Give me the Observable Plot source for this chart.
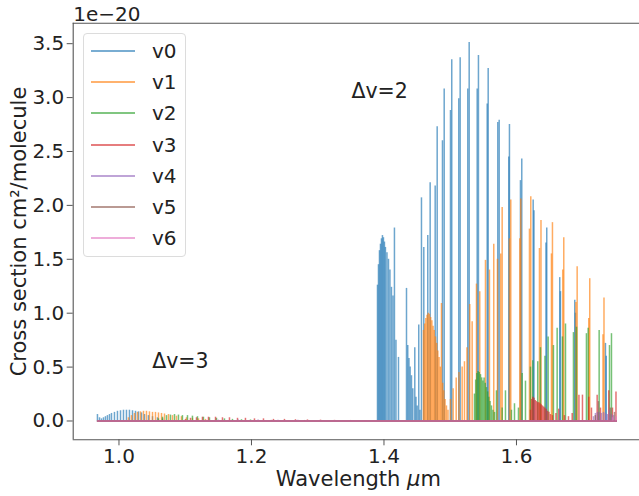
<!DOCTYPE html>
<html><head><meta charset="utf-8">
<script src="https://cdn.jsdelivr.net/npm/d3@7"></script>
<script src="https://cdn.jsdelivr.net/npm/@observablehq/plot@0.6"></script>
<style>
body{margin:0;background:#fff;font-family:"DejaVu Sans",sans-serif;}
#wrap{position:relative;width:639px;height:496px;overflow:hidden;background:#fff}
#legend{position:absolute;left:83px;top:33px;width:103px;height:224px;border:1px solid #dcdcdc;border-radius:4px;background:rgba(255,255,255,0.85);box-sizing:border-box}
.row{position:absolute;left:0;width:100%;height:0}
.sw{position:absolute;left:7px;top:-1px;width:44px;height:2px}
.lb{position:absolute;left:68px;top:-12px;font-size:20px;line-height:24px;color:#222}
</style>
</head><body>
<div id="wrap"><div id="chart"></div><div id="legend"></div></div>
<script>
const series = ["v0","v1","v2","v3","v4","v5","v6"];
const colors = ["#1f77b4","#ff7f0e","#2ca02c","#d62728","#9467bd","#8c564b","#e377c2"];

const v0Wave = [0.9675,0.9706,0.9736,0.9766,0.9796,0.9826,0.9857,0.9887,0.9932,0.9977,1.0023,1.0068,1.0113,1.0158,1.0204,1.0249,1.0294,1.0340,1.0385,1.0445,1.0506,1.0581,1.0657,
 1.3902,1.3917,1.3932,1.3947,1.3962,1.3977,1.3992,1.4007,1.4022,1.4045,1.4068,1.4090,1.4113,1.4136,1.4158,1.4181,1.4219,
 1.4340,1.4359,1.4377,1.4395,1.4415,1.4435,1.4465,1.4483,1.4501,1.4525,1.4543,1.4566,1.4601,1.4661,1.4697,1.4773,1.4803,1.4883,1.4909,
 1.5004,1.5023,1.5129,1.5150,1.5265,1.5286,1.5407,1.5426,1.5558,1.5573,1.5718,1.5739,1.5884,1.5894,1.6060,1.6080,1.6252,1.6264,1.6445,1.6457,1.6653,1.6664,1.6880,1.6890,1.7343,1.7355];
const v0Cross = [0.06,0.03,0.02,0.03,0.04,0.05,0.06,0.07,0.08,0.09,0.095,0.10,0.10,0.10,0.095,0.09,0.085,0.075,0.06,0.05,0.04,0.03,0.02,
 1.26,1.45,1.58,1.64,1.69,1.72,1.70,1.66,1.61,1.56,1.50,1.40,1.24,1.16,1.79,0.75,0.59,
 1.23,0.70,0.58,0.50,0.42,0.30,0.68,0.22,0.14,0.89,0.10,2.07,1.61,1.72,2.21,2.18,2.73,2.60,3.08,
 2.88,3.35,2.99,3.37,3.08,3.51,3.08,3.39,2.94,3.27,2.77,2.79,2.45,2.75,2.23,2.43,2.05,1.95,1.65,1.79,1.33,1.20,1.12,1.00,0.72,0.60];

const v1Wave = [1.0143,1.0189,1.0234,1.0279,1.0325,1.0370,1.0415,1.0460,1.0506,1.0551,1.0596,1.0642,1.0687,1.0747,1.0808,1.0868,1.0943,1.1019,1.1109,1.1200,1.1306,
 1.4596,1.4614,1.4632,1.4650,1.4668,1.4687,1.4705,1.4723,1.4741,1.4759,1.4777,1.4795,1.4813,1.4831,1.4850,1.4868,1.4886,1.4904,1.4922,1.4943,1.4966,
 1.5004,1.5044,1.5090,1.5132,1.5180,1.5215,1.5253,1.5295,1.5331,1.5396,1.5446,1.5532,1.5592,1.5657,1.5713,1.5763,1.5784,1.5894,1.5914,1.6050,1.6065,1.6196,1.6216,1.6347,1.6370,1.6528,1.6543,1.6699,1.6714,1.6898,1.6916,1.7091,1.7106,1.7306,1.7321];
const v1Cross = [0.03,0.05,0.07,0.08,0.085,0.09,0.09,0.085,0.08,0.08,0.075,0.07,0.065,0.06,0.05,0.045,0.04,0.03,0.025,0.02,0.015,
 0.84,0.90,0.95,0.98,1.00,0.99,0.96,0.93,0.88,0.84,0.78,0.72,0.65,0.59,0.50,1.09,0.35,0.28,0.20,0.14,0.10,
 0.20,0.30,0.40,0.45,0.50,0.55,0.68,1.08,0.92,1.27,1.20,1.49,1.40,1.64,1.50,1.55,1.98,1.69,2.05,1.69,2.06,1.78,2.08,1.60,1.86,1.55,1.84,1.40,1.70,1.10,1.43,0.95,1.32,0.80,1.14];

const v2Wave = [1.0596,1.0657,1.0717,1.0777,1.0838,1.0898,1.0958,1.1034,1.1109,1.1185,1.1275,1.1366,1.1472,1.1592,1.1713,1.1849,1.1985,
 1.5366,1.5384,1.5402,1.5420,1.5438,1.5457,1.5475,1.5493,1.5511,1.5529,1.5547,1.5565,1.5583,1.5601,1.5623,1.5645,1.5668,
 1.5698,1.5784,1.5834,1.5924,1.5970,1.6030,1.6086,1.6136,1.6211,1.6246,1.6321,1.6362,1.6430,1.6478,1.6558,1.6614,1.6694,1.6740,1.6860,1.6906,1.7056,1.7082,1.7248,1.7404,1.7434];
const v2Cross = [0.02,0.035,0.05,0.055,0.06,0.055,0.05,0.05,0.045,0.04,0.035,0.03,0.025,0.02,0.015,0.012,0.01,
 0.25,0.38,0.44,0.46,0.45,0.43,0.40,0.37,0.40,0.35,0.31,0.27,0.22,0.18,0.14,0.10,0.08,
 0.28,0.12,0.28,0.10,0.16,0.12,0.44,0.37,0.50,0.56,0.55,0.68,0.60,0.78,0.70,0.86,0.78,0.90,0.82,0.87,0.81,0.86,0.84,0.70,0.81];

const v3Wave = [1.1004,1.1079,1.1170,1.1260,1.1351,1.1457,1.1562,1.1668,1.1789,1.1909,1.2045,1.2181,1.2332,1.2498,1.2664,1.2845,1.3042,1.3253,1.3494,1.3721,
 1.6211,1.6229,1.6247,1.6265,1.6283,1.6302,1.6320,1.6338,1.6356,1.6374,1.6392,1.6410,1.6428,1.6447,1.6468,1.6491,1.6513,1.6543,
 1.6596,1.6638,1.6724,1.6785,1.6841,1.6943,1.6996,1.7091,1.7132,1.7218,1.7268,1.7393,1.7449,1.7502];
const v3Cross = [0.015,0.025,0.03,0.035,0.035,0.035,0.03,0.03,0.025,0.025,0.02,0.02,0.015,0.015,0.012,0.01,0.008,0.006,0.005,0.004,
 0.10,0.20,0.22,0.21,0.19,0.18,0.17,0.17,0.16,0.15,0.14,0.13,0.12,0.11,0.09,0.08,0.06,0.05,
 0.07,0.11,0.05,0.04,0.07,0.24,0.24,0.22,0.12,0.24,0.12,0.28,0.12,0.27];

const v4Wave = [1.1500,1.1800,1.2100,1.2400,1.2700,1.7162,1.7192,1.7222,1.7252,1.7283,1.7313,1.7343,1.7373,1.7403,1.7434,1.7464];
const v4Cross = [0.008,0.01,0.01,0.008,0.006,0.04,0.07,0.08,0.08,0.07,0.08,0.07,0.06,0.10,0.06,0.05];

const v5Wave = [1.2300,1.2800,1.7190,1.7237,1.7420,1.7480];
const v5Cross = [0.006,0.005,0.05,0.18,0.12,0.08];

const v6Wave = [1.7450,1.7500];
const v6Cross = [0.03,0.04];

const waveStart = 0.9675, waveEnd = 1.7524;
const xTicks = [1.0, 1.2, 1.4, 1.6];
const yTicks = [0.0, 0.5, 1.0, 1.5, 2.0, 2.5, 3.0, 3.5];
const noteText = ["Δv=2", "Δv=3"];
const noteWave = [1.3509, 1.0501];
const noteCross = [3.058, 0.551];
const xLabel = "Wavelength μm";
const yLabel = "Cross section cm²/molecule";
const scaleText = "1e−20";

const waves = [v0Wave,v1Wave,v2Wave,v3Wave,v4Wave,v5Wave,v6Wave];
const crosses = [v0Cross,v1Cross,v2Cross,v3Cross,v4Cross,v5Cross,v6Cross];

const xDom = [0.9309, 1.7857];
const yDom = [-0.1744, 3.690];

const marks = [];
series.forEach((s, i) => {
  const data = waves[i].map((w, j) => ({wave: w, cross: crosses[i][j]}));
  marks.push(Plot.ruleX(data, {x: "wave", y1: () => 0, y2: "cross", stroke: colors[i], strokeWidth: 1.5, strokeOpacity: 0.65}));
  marks.push(Plot.ruleY([0], {x1: () => waveStart, x2: () => waveEnd, stroke: colors[i], strokeWidth: 1.5, strokeOpacity: 0.65}));
});

const notes = noteText.map((t, i) => ({t, x: noteWave[i], y: noteCross[i]}));

const chart = Plot.plot({
  width: 639, height: 496,
  marginLeft: 72.7, marginRight: 0, marginTop: 22.7, marginBottom: 56.7,
  x: {domain: xDom},
  y: {domain: yDom},
  style: {fontFamily: "DejaVu Sans", background: "white", color: "#222", overflow: "visible"},
  marks: [
    ...marks,
    Plot.text(notes, {x: "x", y: "y", text: "t", textAnchor: "start", lineAnchor: "middle", fontSize: 20.5, fill: "#222"}),
    Plot.ruleX([xDom[0]], {stroke: "#555", strokeWidth: 1.1}),
    Plot.ruleY([yDom[0]], {stroke: "#555", strokeWidth: 1.1}),
    Plot.ruleY([yDom[1]], {stroke: "#555", strokeWidth: 1.1}),
    Plot.axisX(xTicks, {tickSize: 6, tickPadding: 3, fontSize: 20, tickFormat: d3.format(".1f"), label: null, stroke: "#555"}),
    Plot.axisY(yTicks, {tickSize: 6, tickPadding: 3, fontSize: 20, tickFormat: d3.format(".1f"), label: null, stroke: "#555"}),
    Plot.text([xLabel], {frameAnchor: "bottom", text: d => d, dy: 39, dx: 2, textAnchor: "middle", lineAnchor: "middle", fontSize: 21, fill: "#222"}),
    Plot.text([yLabel], {frameAnchor: "left", text: d => d, rotate: -90, dx: -54.4, textAnchor: "middle", lineAnchor: "middle", fontSize: 21, fill: "#222"}),
    Plot.text([scaleText], {frameAnchor: "top-left", text: d => d, textAnchor: "start", lineAnchor: "middle", dy: -8.2, dx: 0, fontSize: 20, fill: "#222"})
  ]
});
document.getElementById("chart").appendChild(chart);

// italic mu as in the mathtext original
d3.select(chart).selectAll("text").each(function() {
  const el = d3.select(this);
  if (el.text() === xLabel) {
    el.text(null);
    el.append("tspan").text("Wavelength ");
    el.append("tspan").attr("font-style", "italic").text("μ");
    el.append("tspan").text("m");
  }
});

const legend = document.getElementById("legend");
series.forEach((s, i) => {
  const row = document.createElement("div");
  row.className = "row";
  row.style.top = Math.round(17.2 + i * 31.1) + "px";
  const sw = document.createElement("div");
  sw.className = "sw";
  sw.style.background = colors[i];
  sw.style.opacity = 0.6;
  const lb = document.createElement("div");
  lb.className = "lb";
  lb.textContent = s;
  row.appendChild(sw); row.appendChild(lb);
  legend.appendChild(row);
});
</script>
</body></html>
